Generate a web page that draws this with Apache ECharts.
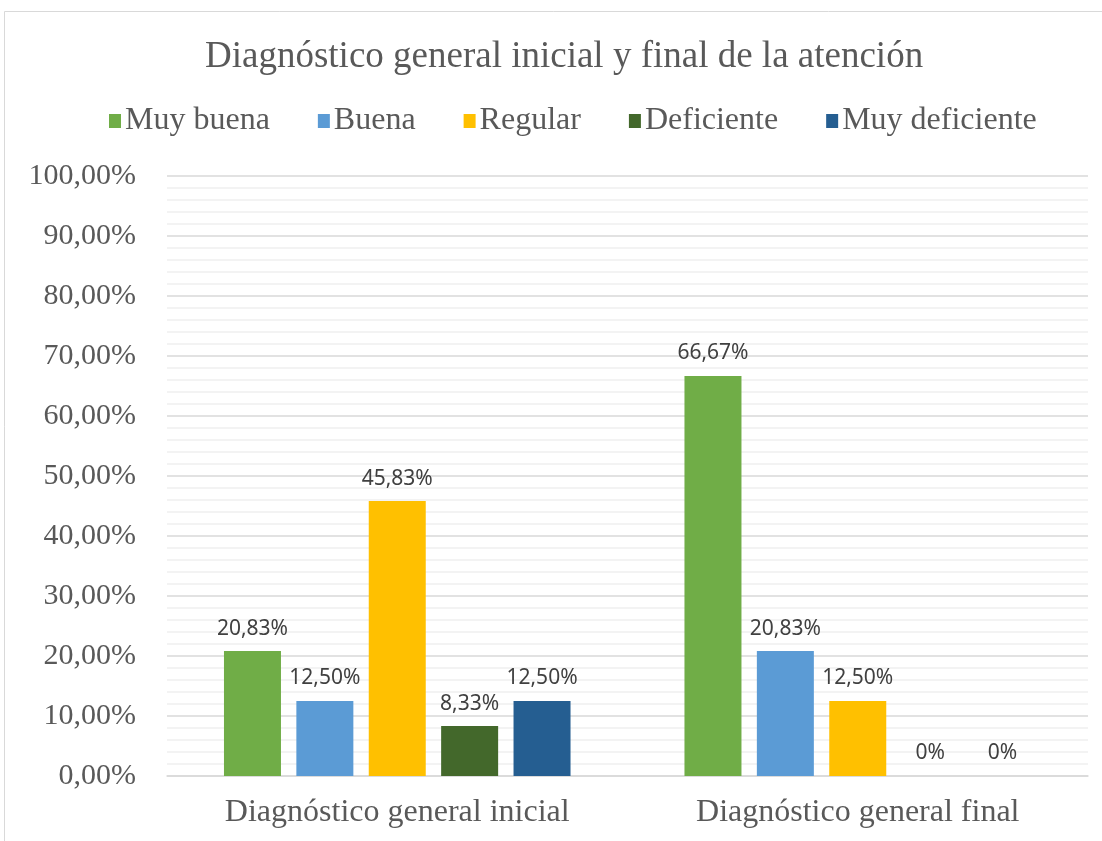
<!DOCTYPE html>
<html>
<head>
<meta charset="utf-8">
<script src="https://cdn.jsdelivr.net/npm/echarts@6/dist/echarts.min.js"></script>
<style>
html,body{margin:0;padding:0;background:#fff;}
#chart{width:1102px;height:841px;}
</style>
</head>
<body>
<div id="chart"></div>
<script>
const titleText = 'Diagnóstico general inicial y final de la atención';
const categories = ['Diagnóstico general inicial', 'Diagnóstico general final'];
const seriesNames = ['Muy buena', 'Buena', 'Regular', 'Deficiente', 'Muy deficiente'];
const muyBuena = [20.83, 66.67];
const buena = [12.50, 20.83];
const regular = [45.83, 12.50];
const deficiente = [8.33, 0];
const muyDeficiente = [12.50, 0];
const colors = ['#70AD47', '#5B9BD5', '#FFC000', '#43682B', '#255E91'];

const values = [muyBuena, buena, regular, deficiente, muyDeficiente];
const serif = '"Liberation Serif", "Times New Roman", serif';

function fmtLabel(p) {
  if (p.value === 0) return '0%';
  return p.value.toFixed(2).replace('.', ',') + '%';
}

const chart = echarts.init(document.getElementById('chart'));
chart.setOption({
  backgroundColor: '#fff',
  animation: false,
  graphic: [{
    type: 'rect',
    shape: {x: 4.5, y: 11.5, width: 1110, height: 850},
    style: {fill: 'none', stroke: '#d9d9d9', lineWidth: 1}
  }],
  title: {
    text: titleText,
    left: 200,
    top: 34,
    textStyle: {fontFamily: serif, fontSize: 37, fontWeight: 'normal', color: '#595959'}
  },
  legend: {
    top: 100,
    left: 104,
    itemWidth: 12,
    itemHeight: 14,
    itemGap: 48,
    icon: 'rect',
    textStyle: {fontFamily: serif, fontSize: 32, color: '#595959', padding: [0, 0, 0, -1]},
    data: seriesNames
  },
  grid: {left: 167, right: 14, top: 176, bottom: 65},
  xAxis: {
    type: 'category',
    data: categories,
    axisTick: {show: false},
    axisLine: {lineStyle: {color: '#d9d9d9', width: 1.5}},
    axisLabel: {fontFamily: serif, fontSize: 32, color: '#595959', margin: 21}
  },
  yAxis: {
    type: 'value',
    min: 0,
    max: 100,
    interval: 10,
    axisLine: {show: false},
    axisTick: {show: false},
    axisLabel: {
      fontFamily: serif, fontSize: 30, color: '#595959', margin: 31,
      formatter: v => v.toFixed(2).replace('.', ',') + '%'
    },
    splitLine: {lineStyle: {color: '#d9d9d9', width: 1.5}},
    minorTick: {show: false, splitNumber: 5},
    minorSplitLine: {show: true, lineStyle: {color: '#efefef', width: 1.5}}
  },
  series: seriesNames.map((name, i) => ({
    name: name,
    type: 'bar',
    data: values[i],
    barWidth: 57,
    barGap: '27%',
    itemStyle: {color: colors[i]},
    label: {
      show: true,
      position: 'top',
      distance: 12,
      fontFamily: '"Noto Sans", "Open Sans", sans-serif',
      fontSize: 21,
      color: '#404040',
      formatter: fmtLabel
    }
  }))
});
</script>
</body>
</html>
